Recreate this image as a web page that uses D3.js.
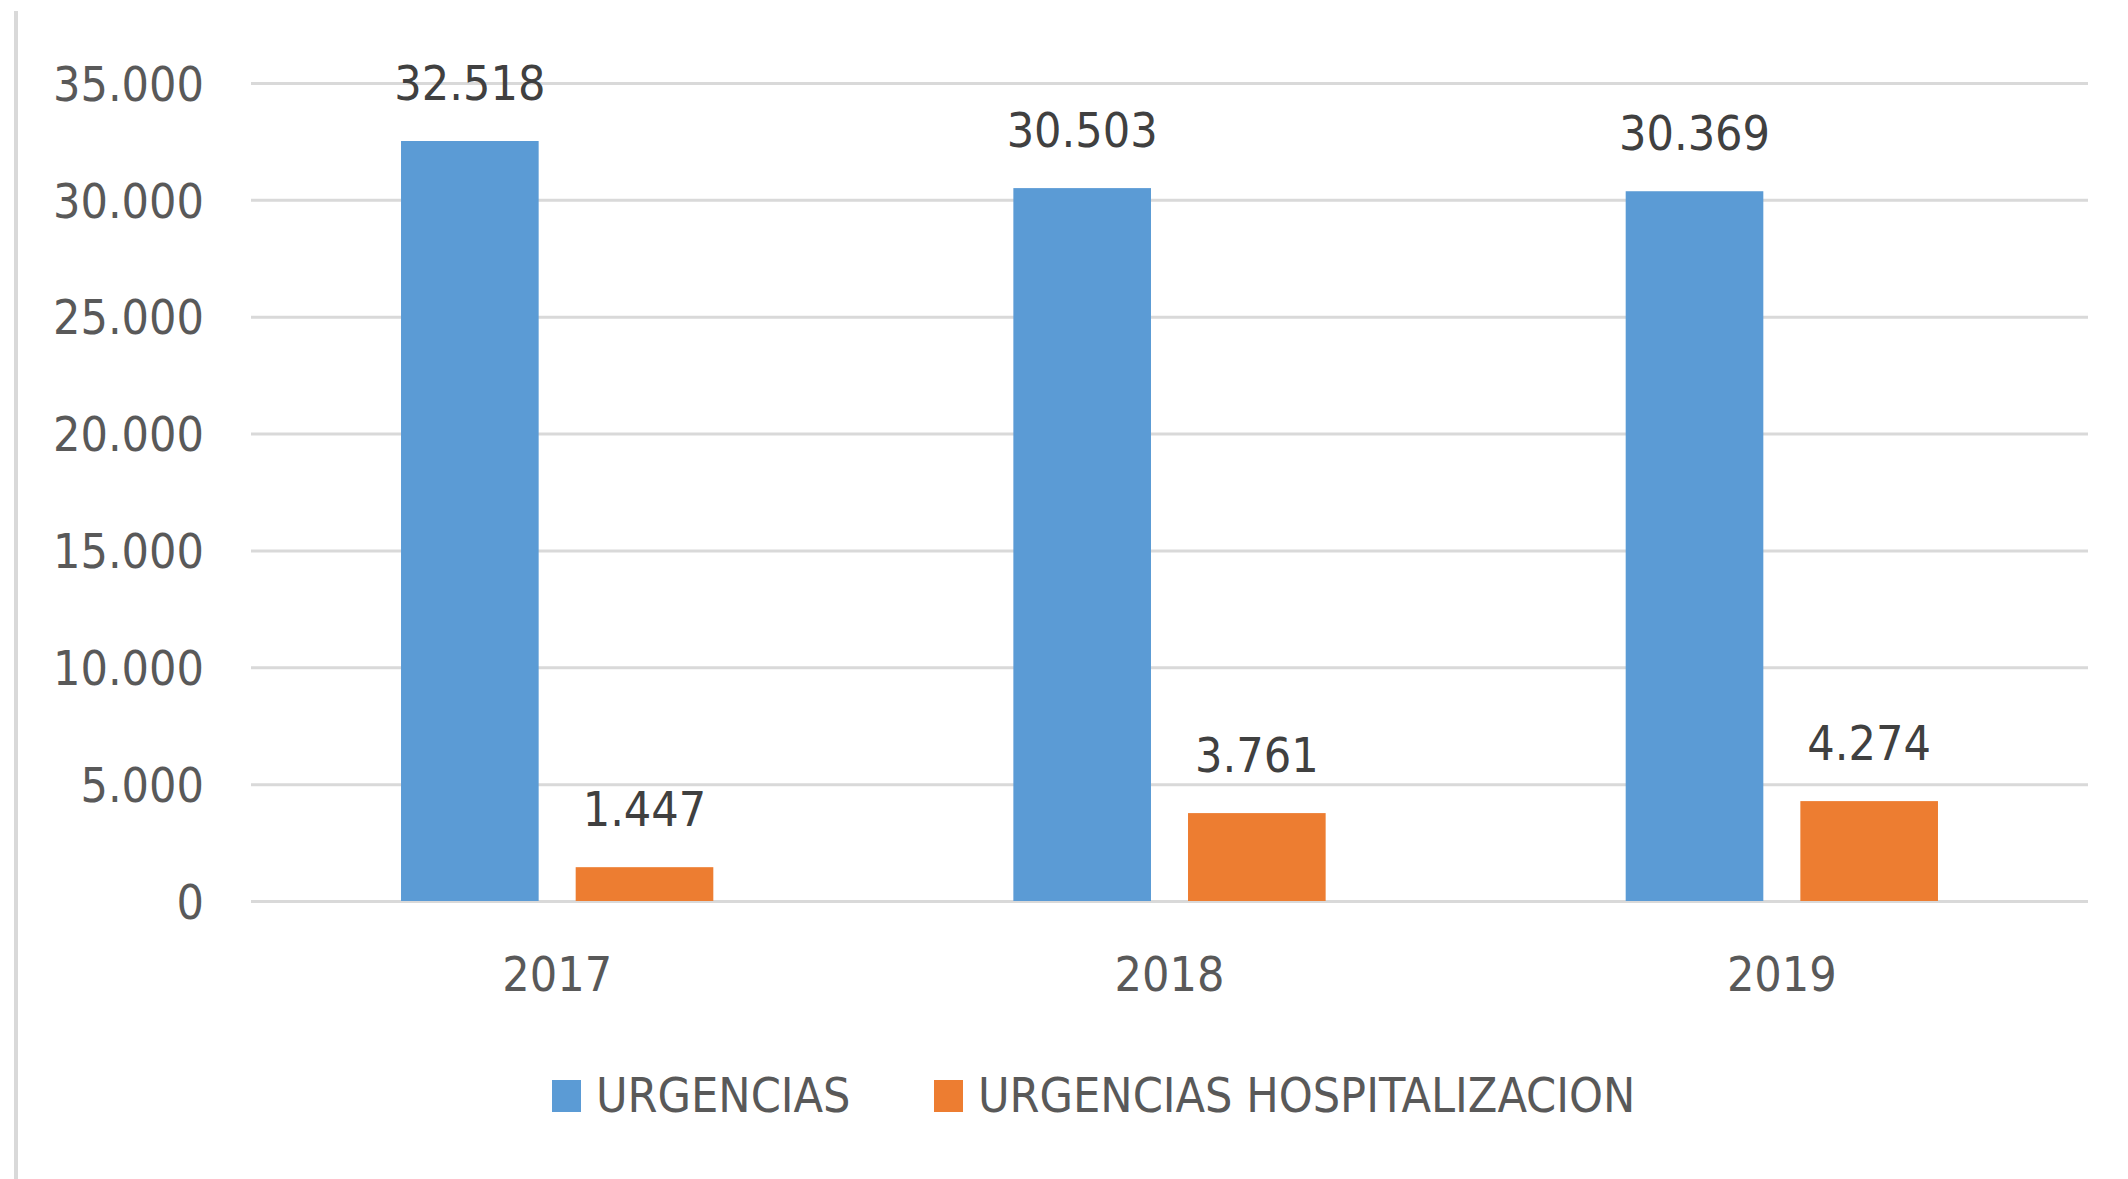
<html>
<head>
    <script src="https://d3js.org/d3.v7.min.js"></script>
    <title>Urgencias 2017-2019</title>
    <style>
        body { margin: 0; background: #fff; }
        text { font-family: "Liberation Sans Narrow", "DejaVu Sans Condensed", sans-serif; }
    </style>
</head>
<body>
<svg id="chart"></svg>
<script>
    // data
    const years = ["2017", "2018", "2019"];
    const seriesNames = ["URGENCIAS", "URGENCIAS HOSPITALIZACION"];
    const urgencias = [32518, 30503, 30369];
    const hospitalizacion = [1447, 3761, 4274];
    const yTicks = [0, 5000, 10000, 15000, 20000, 25000, 30000, 35000];
    const colors = ["#5B9BD5", "#ED7D31"];

    const W = 2128, H = 1179;
    const FS = 48;
    const svg = d3.select("#chart").attr("width", W).attr("height", H);

    const margin = {top: 83, right: 40, bottom: 278, left: 251},
        width = W - margin.left - margin.right,
        height = H - margin.top - margin.bottom;

    const fmt = d3.formatLocale({decimal: ",", thousands: ".", grouping: [3], currency: ["", ""]}).format(",d");

    // outer chart border (only left edge shows)
    svg.append("line")
        .attr("x1", 16).attr("x2", 16)
        .attr("y1", 11).attr("y2", H)
        .attr("stroke", "#d9d9d9").attr("stroke-width", 4);

    const g = svg.append("g").attr("transform", "translate(" + margin.left + "," + margin.top + ")");

    const x0 = d3.scaleBand().domain(years).range([0, width]).paddingInner(0.49).paddingOuter(0.245);
    const x1 = d3.scaleBand().domain(seriesNames).range([0, x0.bandwidth()]).paddingInner(0.212);
    const y = d3.scaleLinear().domain([0, 35000]).range([height, 0]);

    // gridlines + y labels
    const yAxis = g.append("g")
        .call(d3.axisLeft(y).tickValues(yTicks).tickSize(-width).tickPadding(47).tickFormat(fmt));
    yAxis.select(".domain").remove();
    yAxis.selectAll(".tick line").attr("stroke", "#d9d9d9").attr("stroke-width", 3);
    yAxis.selectAll(".tick text")
        .attr("fill", "#595959")
        .attr("font-size", FS)
        .attr("dy", "0.36em");

    // x labels
    const xAxis = g.append("g")
        .attr("transform", "translate(0," + height + ")")
        .call(d3.axisBottom(x0).tickSize(0).tickPadding(56));
    xAxis.select(".domain").remove();
    xAxis.selectAll(".tick text")
        .attr("fill", "#595959")
        .attr("font-size", FS);

    const rows = years.map(function (yr, i) {
        return {year: yr, values: [urgencias[i], hospitalizacion[i]]};
    });

    const groups = g.selectAll(".grp").data(rows).enter().append("g")
        .attr("class", "grp")
        .attr("transform", function (d) { return "translate(" + x0(d.year) + ",0)"; });

    const bars = groups.selectAll("g").data(function (d) {
        return d.values.map(function (v, j) { return {name: seriesNames[j], value: v, idx: j}; });
    }).enter().append("g");

    bars.append("rect")
        .attr("x", function (d) { return x1(d.name); })
        .attr("y", function (d) { return y(d.value); })
        .attr("width", x1.bandwidth())
        .attr("height", function (d) { return height - y(d.value); })
        .attr("fill", function (d) { return colors[d.idx]; });

    bars.append("text")
        .attr("x", function (d) { return x1(d.name) + x1.bandwidth() / 2; })
        .attr("y", function (d) { return y(d.value) - 41; })
        .attr("text-anchor", "middle")
        .attr("fill", "#404040")
        .attr("font-size", FS)
        .text(function (d) { return fmt(d.value); });

    // legend
    const legendX = [552, 934];
    const legend = svg.selectAll(".legend").data(seriesNames).enter().append("g")
        .attr("class", "legend")
        .attr("transform", function (d, i) { return "translate(" + legendX[i] + ",1080)"; });
    legend.append("rect")
        .attr("width", 29).attr("height", 32)
        .attr("fill", function (d, i) { return colors[i]; });
    legend.append("text")
        .attr("x", 44).attr("y", 32)
        .attr("fill", "#595959")
        .attr("font-size", FS)
        .text(function (d) { return d; });
</script>
</body>
</html>
